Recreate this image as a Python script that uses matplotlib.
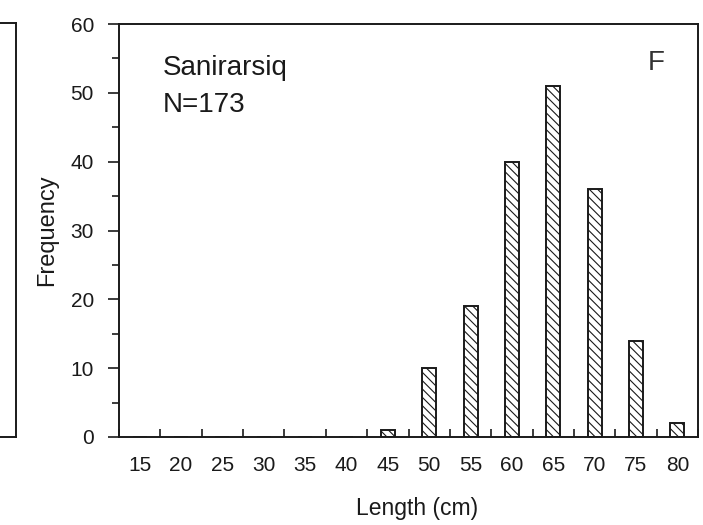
import matplotlib.pyplot as plt
import numpy as np

# Length classes (cm) and counts
lengthClasses = [15, 20, 25, 30, 35, 40, 45, 50, 55, 60, 65, 70, 75, 80]
frequencies = [0, 0, 0, 0, 0, 0, 1, 10, 19, 40, 51, 36, 14, 2]
yTicks = [0, 10, 20, 30, 40, 50, 60]

plt.rcParams['font.family'] = ['Liberation Sans', 'DejaVu Sans']
plt.rcParams['hatch.linewidth'] = 0.8
ink = "#1a1a1a"

fig = plt.figure(figsize=(7.03, 5.25), dpi=100)

# Edge of the neighbouring panel (cut off on the left)
axPrev = fig.add_axes([-0.5, 1 - 437 / 525, 0.5 + 16 / 703, (437 - 23) / 525])
axPrev.set_xticks([])
axPrev.set_yticks([])
for side in ["top", "right", "bottom"]:
    axPrev.spines[side].set_linewidth(1.4)
    axPrev.spines[side].set_color(ink)
axPrev.spines["left"].set_visible(False)

ax = fig.add_axes([119 / 703, 1 - 437 / 525, (698 - 119) / 703, (437 - 24) / 525])

positions = np.arange(len(lengthClasses))
ax.bar(positions, frequencies, width=0.34, color="white", edgecolor=ink,
       linewidth=1.4, hatch="\\\\\\\\")

ax.set_xlim(-0.5, len(lengthClasses) - 0.5)
ax.set_ylim(0, 60)

# Labels centred on bars, ticks on class boundaries
ax.set_xticks(positions)
ax.set_xticklabels([str(v) for v in lengthClasses])
ax.set_xticks(np.arange(len(lengthClasses) + 1) - 0.5, minor=True)
ax.tick_params(axis="x", which="major", length=0, pad=14, labelsize=15, colors=ink)
ax.tick_params(axis="x", which="minor", direction="in", length=6, width=1.2, colors=ink)

ax.set_yticks(yTicks)
ax.set_yticks(np.arange(5, 60, 10), minor=True)
ax.tick_params(axis="y", which="major", direction="out", length=8, width=1.2,
               labelsize=15, colors=ink, pad=10)
ax.tick_params(axis="y", which="minor", direction="out", length=5, width=1.2, colors=ink)

for side in ax.spines.values():
    side.set_linewidth(1.4)
    side.set_color(ink)

ax.set_ylabel("Frequency", fontsize=17, color=ink, labelpad=9)
ax.set_xlabel("Length (cm)", fontsize=16.5, color=ink)
ax.xaxis.set_label_coords(0.515, -0.145)

ax.text(0.075, 0.8765, "Sanirarsiq", transform=ax.transAxes, fontsize=20,
        color=ink, va="baseline")
ax.text(0.075, 0.787, "N=173", transform=ax.transAxes, fontsize=20,
        color=ink, va="baseline")
ax.text(0.914, 0.8886, "F", transform=ax.transAxes, fontsize=20,
        color="#333333", va="baseline")

plt.savefig("out.png", dpi=100)
plt.close()
